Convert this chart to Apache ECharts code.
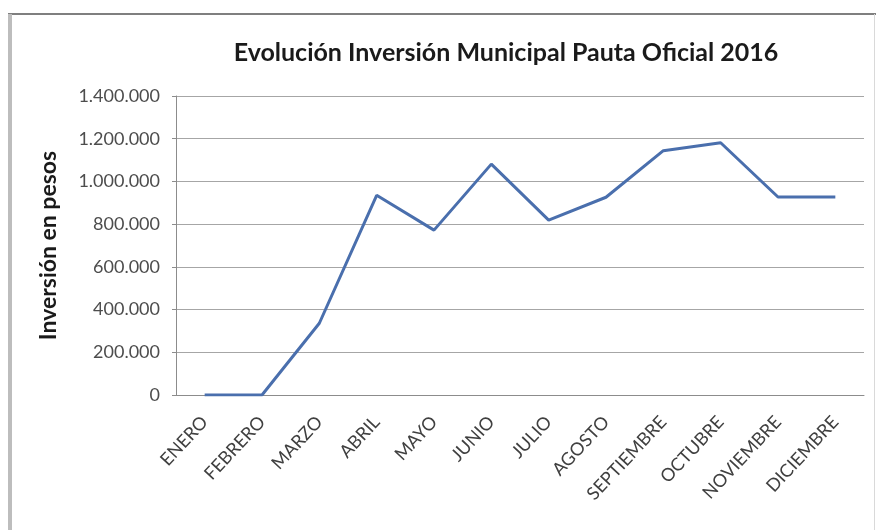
<!DOCTYPE html>
<html>
<head>
<meta charset="utf-8">
<script src="https://cdn.jsdelivr.net/npm/echarts@6/dist/echarts.min.js"></script>
<style>
  html, body { margin: 0; padding: 0; background: #ffffff; }
  #chart { width: 876px; height: 530px; }
</style>
</head>
<body>
<div id="chart"></div>
<script>
// Monthly municipal advertising investment, 2016
const months = ['ENERO', 'FEBRERO', 'MARZO', 'ABRIL', 'MAYO', 'JUNIO', 'JULIO',
  'AGOSTO', 'SEPTIEMBRE', 'OCTUBRE', 'NOVIEMBRE', 'DICIEMBRE'];
const inversion = [0, 0, 336000, 935000, 772000, 1081000, 819000,
  926000, 1144000, 1181000, 927000, 927000];
const yTicks = [0, 200000, 400000, 600000, 800000, 1000000, 1200000, 1400000];

const fontFamily = 'Lato, "Open Sans", sans-serif';

// Spanish-style thousands separator (1.200.000)
function formatPesos(v) {
  return String(Math.round(v)).replace(/\B(?=(\d{3})+(?!\d))/g, '.');
}

const chart = echarts.init(document.getElementById('chart'), null, { renderer: 'canvas' });

chart.setOption({
  animation: false,
  backgroundColor: '#ffffff',
  title: {
    text: 'Evolución Inversión Municipal Pauta Oficial 2016',
    left: 501,
    top: 35,
    textAlign: 'center',
    textStyle: { fontFamily, fontSize: 25, fontWeight: 'bold', color: '#1a1a1a' }
  },
  graphic: [
    // chart frame: top and right edges dark, left edge a wider light band
    { type: 'line', shape: { x1: 8, y1: 14, x2: 876, y2: 14 }, style: { stroke: '#7f7f7f', lineWidth: 2 } },
    { type: 'rect', shape: { x: 8, y: 14, width: 4, height: 516 }, style: { fill: '#bdbdbd' } },
    { type: 'line', shape: { x1: 874.5, y1: 14, x2: 874.5, y2: 530 }, style: { stroke: '#d9d9d9', lineWidth: 1 } }
  ],
  grid: { left: 176, right: 12, top: 96, bottom: 135, containLabel: false },
  xAxis: {
    type: 'category',
    data: months,
    boundaryGap: true,
    axisLine: { show: true, lineStyle: { color: '#8c8c8c', width: 1 } },
    axisTick: { show: false },
    axisLabel: {
      rotate: 47,
      margin: 24,
      interval: 0,
      fontFamily,
      fontSize: 18,
      color: '#404040'
    }
  },
  yAxis: {
    type: 'value',
    min: yTicks[0],
    max: yTicks[yTicks.length - 1],
    interval: yTicks[1] - yTicks[0],
    name: 'Inversión en pesos',
    nameLocation: 'middle',
    nameGap: 116,
    nameRotate: 90,
    nameTextStyle: { fontFamily, fontSize: 23, fontWeight: 'bold', color: '#1a1a1a' },
    axisLine: { show: true, lineStyle: { color: '#8c8c8c', width: 1 } },
    axisTick: { show: true, length: 4, lineStyle: { color: '#8c8c8c' } },
    axisLabel: {
      margin: 16,
      fontFamily,
      fontSize: 18,
      color: '#4d4d4d',
      formatter: formatPesos
    },
    splitLine: { show: true, lineStyle: { color: '#a6a6a6', width: 1 } }
  },
  series: [{
    type: 'line',
    data: inversion,
    showSymbol: false,
    symbol: 'none',
    lineStyle: { color: '#4a6fad', width: 3 },
    itemStyle: { color: '#4a6fad' }
  }]
});
</script>
</body>
</html>
